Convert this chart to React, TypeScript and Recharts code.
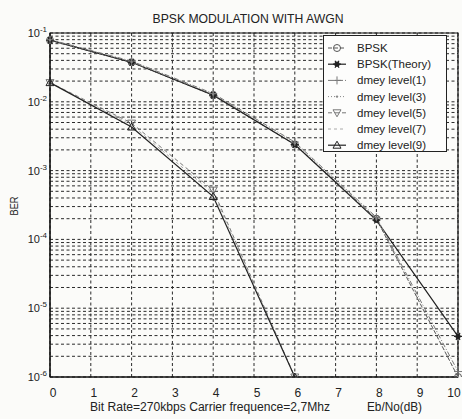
import React from 'react';
import { LineChart, Line, XAxis, YAxis, CartesianGrid, Legend, ReferenceArea } from 'recharts';

// ---- data ----
const snrDb = [0, 2, 4, 6, 8, 10];
const bpskSim = [0.0786, 0.0375, 0.0125, 0.0024, 0.0002, 0.000001];
const bpskTheory = [0.0786, 0.0375, 0.0125, 0.00239, 0.000191, 0.0000039];
const dmeyLevel1 = [0.08, 0.039, 0.0132, 0.0026, 0.00021, 0.0000012];
const dmeyLevel3 = [0.079, 0.038, 0.0128, 0.0025, 0.0002, 0.000001];
const dmeyLevel5 = [0.019, 0.0049, 0.00052, 0.000001, null, null];
const dmeyLevel7 = [0.019, 0.0046, 0.00047, 0.000001, null, null];
const dmeyLevel9 = [0.019, 0.0043, 0.00042, 0.000001, null, null];

const xTicks = [0, 1, 2, 3, 4, 5, 6, 7, 8, 9, 10];
const decadeExponents = [-6, -5, -4, -3, -2];
const mantissas = [1, 2, 3, 4, 5, 6, 7, 8, 9];
const yTicks: number[] = [];
decadeExponents.forEach((e) => mantissas.forEach((m) => yTicks.push(Number((m * Math.pow(10, e)).toPrecision(3)))));
yTicks.push(0.1);

const data = snrDb.map((snr, i) => ({
  snr,
  bpskSim: bpskSim[i],
  bpskTheory: bpskTheory[i],
  dmeyLevel1: dmeyLevel1[i],
  dmeyLevel3: dmeyLevel3[i],
  dmeyLevel5: dmeyLevel5[i],
  dmeyLevel7: dmeyLevel7[i],
  dmeyLevel9: dmeyLevel9[i],
}));

type MarkerKind = 'circle' | 'star' | 'plus' | 'point' | 'triDown' | 'none' | 'triUp';

const seriesMeta: { key: string; name: string; color: string; dash?: string; marker: MarkerKind; width: number }[] = [
  { key: 'bpskSim', name: 'BPSK', color: '#555', dash: '4 2', marker: 'circle', width: 1 },
  { key: 'bpskTheory', name: 'BPSK(Theory)', color: '#222', marker: 'star', width: 1.2 },
  { key: 'dmeyLevel1', name: 'dmey level(1)', color: '#777', dash: '5 2 1 2', marker: 'plus', width: 1 },
  { key: 'dmeyLevel3', name: 'dmey level(3)', color: '#888', dash: '1 2', marker: 'point', width: 1 },
  { key: 'dmeyLevel5', name: 'dmey level(5)', color: '#777', dash: '4 3', marker: 'triDown', width: 1 },
  { key: 'dmeyLevel7', name: 'dmey level(7)', color: '#aaa', dash: '3 3', marker: 'none', width: 1 },
  { key: 'dmeyLevel9', name: 'dmey level(9)', color: '#222', marker: 'triUp', width: 1.2 },
];

const FONT = '"Liberation Sans", Arial, sans-serif';

function Marker({ kind, cx, cy, color }: { kind: MarkerKind; cx: number; cy: number; color: string }) {
  switch (kind) {
    case 'circle':
      return <circle cx={cx} cy={cy} r={3.5} fill="none" stroke={color} strokeWidth={1} />;
    case 'star':
      return (
        <g stroke={color} strokeWidth={1.2}>
          <path d={`M${cx - 4},${cy}H${cx + 4}M${cx - 2},${cy - 3.5}L${cx + 2},${cy + 3.5}M${cx + 2},${cy - 3.5}L${cx - 2},${cy + 3.5}`} />
          <circle cx={cx} cy={cy} r={2} fill={color} />
        </g>
      );
    case 'plus':
      return <path d={`M${cx - 4},${cy}H${cx + 4}M${cx},${cy - 4}V${cy + 4}`} stroke={color} strokeWidth={1} fill="none" />;
    case 'point':
      return <circle cx={cx} cy={cy} r={1.2} fill={color} />;
    case 'triDown':
      return <polygon points={`${cx - 4},${cy - 3} ${cx + 4},${cy - 3} ${cx},${cy + 4}`} fill="none" stroke={color} strokeWidth={1} />;
    case 'triUp':
      return <polygon points={`${cx - 4},${cy + 3} ${cx + 4},${cy + 3} ${cx},${cy - 4}`} fill="none" stroke={color} strokeWidth={1} />;
    default:
      return <g />;
  }
}

const YTick = (props: any) => {
  const { y, payload } = props;
  const v = payload.value as number;
  const lg = Math.log10(v);
  if (Math.abs(lg - Math.round(lg)) > 1e-6) return <g />;
  return (
    <text x={47} y={y + 4} textAnchor="end" fontFamily={FONT} fontSize={11} fill="#222">
      10<tspan dy={-5} fontSize={8}>{String(Math.round(lg))}</tspan>
    </text>
  );
};

const XTick = (props: any) => {
  const { x, y, payload } = props;
  const cx = Math.min(x + 3, 454);
  return (
    <text x={cx} y={y + 12} textAnchor="middle" fontFamily={FONT} fontSize={12} fill="#222">
      {payload.value}
    </text>
  );
};

const LegendBox = (props: any) => {
  const payload = (props.payload || []) as any[];
  return (
    <div style={{ width: 124, height: 117, border: '1px solid #222', background: '#fdfdfc', boxSizing: 'border-box' }}>
      <svg width={122} height={115} style={{ display: 'block' }}>
        {payload.map((p, i) => {
          const meta = seriesMeta.find((s) => s.key === p.dataKey) || seriesMeta[i];
          const cy = 12 + i * 16.2;
          return (
            <g key={meta.key}>
              <line x1={4} x2={22} y1={cy} y2={cy} stroke={meta.color} strokeWidth={meta.width} strokeDasharray={meta.dash} />
              <Marker kind={meta.marker} cx={13} cy={cy} color={meta.color} />
              <text x={33} y={cy + 4} fontFamily={FONT} fontSize={11.5} fill="#222">
                {p.value}
              </text>
            </g>
          );
        })}
      </svg>
    </div>
  );
};

export default function App() {
  return (
    <div style={{ position: 'absolute', left: 0, top: 0, width: 462, height: 419, background: '#fbfbf9' }}>
      <LineChart width={462} height={419} data={data} margin={{ top: 33, right: 4, left: 10, bottom: 0 }}>
        <CartesianGrid stroke="#2a2a2a" strokeDasharray="3 2.5" strokeWidth={1} />
        <XAxis
          dataKey="snr"
          type="number"
          domain={[0, 10]}
          ticks={xTicks}
          interval={0}
          height={42}
          tickLine={false}
          axisLine={{ stroke: '#111' }}
          tick={<XTick />}
        />
        <YAxis
          type="number"
          scale="log"
          domain={[0.000001, 0.1]}
          allowDataOverflow
          ticks={yTicks}
          interval={0}
          width={40}
          tickLine={false}
          axisLine={{ stroke: '#111' }}
          tick={<YTick />}
        />
        <ReferenceArea x1={0} x2={10} y1={0.000001} y2={0.1} fill="none" stroke="#111" strokeWidth={1.2} />
        {seriesMeta.map((s) => (
          <Line
            key={s.key}
            dataKey={s.key}
            name={s.name}
            type="linear"
            stroke={s.color}
            strokeWidth={s.width}
            strokeDasharray={s.dash}
            isAnimationActive={false}
            dot={(p: any) =>
              p.value == null || p.cx == null ? (
                <g key={`${s.key}-${p.index}`} />
              ) : (
                <Marker key={`${s.key}-${p.index}`} kind={s.marker} cx={p.cx} cy={p.cy} color={s.color} />
              )
            }
            activeDot={false}
          />
        ))}
        <Legend
          layout="vertical"
          align="center"
          verticalAlign="middle"
          content={<LegendBox />}
          wrapperStyle={{ position: 'absolute', left: 323, top: 35, width: 124, height: 117 }}
        />
      </LineChart>
      <svg width={462} height={419} style={{ position: 'absolute', left: 0, top: 0, pointerEvents: 'none' }}>
        <text x={248} y={23} textAnchor="middle" fontFamily={FONT} fontSize={13} fill="#222" textLength={191} lengthAdjust="spacingAndGlyphs">
          BPSK MODULATION  WITH AWGN
        </text>
        <text x={90} y={411} fontFamily={FONT} fontSize={12} fill="#222" textLength={240} lengthAdjust="spacingAndGlyphs">
          Bit Rate=270kbps Carrier frequence=2,7Mhz
        </text>
        <text x={367} y={411} fontFamily={FONT} fontSize={12} fill="#222" textLength={55} lengthAdjust="spacingAndGlyphs">
          Eb/No(dB)
        </text>
        <text x={18} y={206} transform="rotate(-90 18 206)" textAnchor="middle" fontFamily={FONT} fontSize={11} fill="#222" textLength={19} lengthAdjust="spacingAndGlyphs">
          BER
        </text>
      </svg>
    </div>
  );
}
